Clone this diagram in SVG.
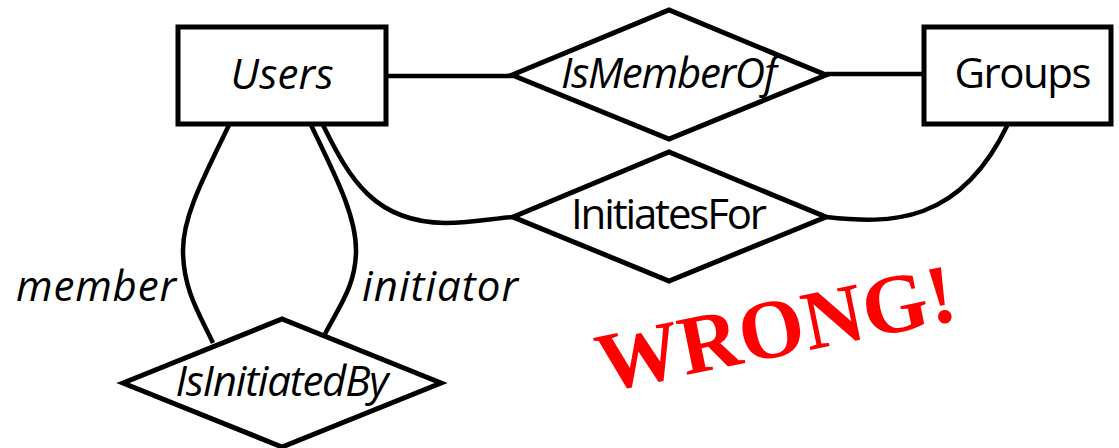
<svg xmlns="http://www.w3.org/2000/svg" width="1119" height="448" viewBox="0 0 1119 448">
<style>
.shape{fill:#fff;stroke:#000;stroke-width:5;stroke-linejoin:miter}
.conn{fill:none;stroke:#000;stroke-width:4.5}
.t{font-family:"Open Sans","Noto Sans",sans-serif;font-size:42px;fill:#000;text-anchor:middle}
.i{font-style:italic}
.wrong{font-family:"Liberation Serif","Times New Roman",serif;font-weight:bold;font-size:84px;fill:#ff0000}
</style>
<rect width="1119" height="448" fill="#fff"/>
<g id="connectors">
<line class="conn" x1="386" y1="76" x2="513" y2="76"/>
<line class="conn" x1="826" y1="74" x2="924" y2="74"/>
<path class="conn" d="M229,125 C205,175 183,215 183,250 C183,290 200,315 213,343"/>
<path class="conn" d="M311,125 C335,175 356,215 356,250 C356,285 340,305 325,334"/>
<path class="conn" d="M323,125 C350,180 375,222 445,223 C475,223 495,218 513,217"/>
<path class="conn" d="M826,217 C890,224 960,225 1008,124"/>
</g>
<g id="users">
<rect class="shape" x="178" y="27" width="208" height="97"/>
<text class="t i" x="282" y="89" textLength="103">Users</text>
</g>
<g id="groups">
<rect class="shape" x="924" y="27" width="187" height="97"/>
<text class="t" x="1023" y="88" textLength="137">Groups</text>
</g>
<g id="isMemberOf">
<polygon class="shape" points="512,75 669,10 826,75 669,139"/>
<text class="t i" x="669" y="88" textLength="216">IsMemberOf</text>
</g>
<g id="initiatesFor">
<polygon class="shape" points="513,217 669,152 826,217 669,281"/>
<text class="t" x="669" y="229" textLength="196">InitiatesFor</text>
</g>
<g id="isInitiatedBy">
<polygon class="shape" points="123,383 282,319 441,383 282,447"/>
<text class="t i" x="282" y="396" textLength="213">IsInitiatedBy</text>
</g>
<g id="labels">
<text class="t i" x="96" y="301" textLength="160">member</text>
<text class="t i" x="440" y="301" textLength="156">initiator</text>
</g>
<text class="wrong" transform="translate(603,392) rotate(-11.5)">WRONG!</text>
</svg>
